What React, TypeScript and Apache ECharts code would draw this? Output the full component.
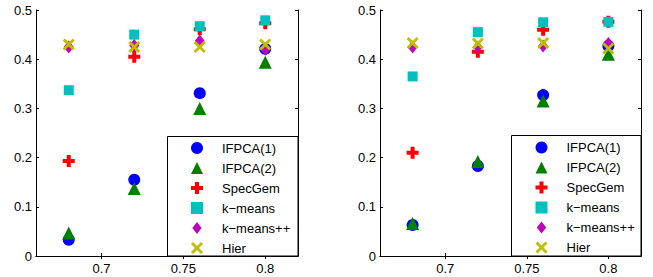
import React, { useEffect, useRef } from "react";
import * as echarts from "echarts";

const xValues = [0.68, 0.72, 0.76, 0.8];
const xTicks = [0.7, 0.75, 0.8];
const seriesNames = ["IFPCA(1)", "IFPCA(2)", "SpecGem", "k\u2212means", "k\u2212means++", "Hier"];

// Left panel values
const leftIFPCA1 = [0.033, 0.155, 0.331, 0.421];
const leftIFPCA2 = [0.047, 0.137, 0.3, 0.394];
const leftSpecGem = [0.193, 0.405, 0.461, 0.473];
const leftKmeans = [0.337, 0.45, 0.467, 0.479];
const leftKmeansPP = [0.425, 0.428, 0.437, 0.42];
const leftHier = [0.43, 0.425, 0.425, 0.43];

// Right panel values
const rightIFPCA1 = [0.063, 0.183, 0.327, 0.427];
const rightIFPCA2 = [0.066, 0.192, 0.315, 0.41];
const rightSpecGem = [0.21, 0.415, 0.46, 0.476];
const rightKmeans = [0.365, 0.455, 0.475, 0.476];
const rightKmeansPP = [0.425, 0.425, 0.427, 0.432];
const rightHier = [0.433, 0.432, 0.433, 0.422];

const colors = ["#0000ff", "#008000", "#ff0000", "#00bfbf", "#bf00bf", "#bfbf00"];
const PLUS = "path://M4,0H8V4H12V8H8V12H4V8H0V4H4Z";
const CROSS = "path://M0,2L2,0L6,4L10,0L12,2L8,6L12,10L10,12L6,8L2,12L0,10L4,6Z";
const DIAMOND = "path://M5,0L10,6.5L5,13L0,6.5Z";
const symbols: any[] = ["circle", "triangle", PLUS, "rect", DIAMOND, CROSS];
const sizes: any[] = [12, 13, 12, 10, [10, 13], 12];
const legendSizes = [12, 12, 12, 10, 12, 12];

const FONT = "Liberation Sans, Arial, Helvetica, sans-serif";

export default function App() {
  const ref = useRef<HTMLDivElement>(null);
  useEffect(() => {
    if (!ref.current) return;
    document.body.style.margin = "0";
    const chart = echarts.init(ref.current, null, { renderer: "svg" });
    const leftData = [leftIFPCA1, leftIFPCA2, leftSpecGem, leftKmeans, leftKmeansPP, leftHier];
    const rightData = [rightIFPCA1, rightIFPCA2, rightSpecGem, rightKmeans, rightKmeansPP, rightHier];

    const grids = [
      { left: 36, top: 10, width: 262, height: 246 },
      { left: 380, top: 10, width: 261, height: 246 },
    ];
    const axisLine = { show: true, lineStyle: { color: "#000", width: 1 } };
    const xAxes: any[] = [];
    const yAxes: any[] = [];
    grids.forEach((_, gi) => {
      xAxes.push({
        type: "value", gridIndex: gi, position: "bottom", min: 0.66, max: 0.82,
        axisLine, splitLine: { show: false },
        axisTick: { show: true, inside: true, length: 3, customValues: xTicks, lineStyle: { color: "#000" } },
        axisLabel: { show: true, customValues: xTicks, color: "#000", fontSize: 13, fontFamily: FONT, margin: 6,
          formatter: (v: number) => String(+v.toFixed(2)) },
      });
      xAxes.push({
        type: "value", gridIndex: gi, position: "top", min: 0.66, max: 0.82,
        axisLine, splitLine: { show: false },
        axisTick: { show: true, inside: true, length: 3, customValues: xTicks, lineStyle: { color: "#000" } },
        axisLabel: { show: false },
      });
      yAxes.push({
        type: "value", gridIndex: gi, position: "left", min: 0, max: 0.5, interval: 0.1,
        axisLine, splitLine: { show: false },
        axisTick: { show: true, inside: true, length: 3, lineStyle: { color: "#000" } },
        axisLabel: { show: true, color: "#000", fontSize: 13, fontFamily: FONT, margin: 4,
          formatter: (v: number) => String(+v.toFixed(1)) },
      });
      yAxes.push({
        type: "value", gridIndex: gi, position: "right", min: 0, max: 0.5, interval: 0.1,
        axisLine, splitLine: { show: false },
        axisTick: { show: true, inside: true, length: 3, lineStyle: { color: "#000" } },
        axisLabel: { show: false },
      });
    });

    const series: any[] = [];
    [leftData, rightData].forEach((panel, gi) => {
      panel.forEach((vals, si) => {
        series.push({
          type: "scatter",
          name: seriesNames[si],
          xAxisIndex: gi * 2,
          yAxisIndex: gi * 2,
          symbol: symbols[si],
          symbolSize: sizes[si],
          itemStyle: { color: colors[si], opacity: 1 },
          z: 3,
          data: xValues.map((x, i) => [x, vals[i]]),
        });
      });
    });

    const legendCommon = {
      orient: "vertical",
      data: seriesNames.map((n, i) => ({ name: n, icon: symbols[i], itemStyle: { color: colors[i] } })),
      itemWidth: 12,
      itemHeight: 12,
      itemGap: 7,
      padding: 0,
      selectedMode: false,
      symbolKeepAspect: true,
      z: 5,
      textStyle: { color: "#000", fontSize: 13, fontFamily: FONT, lineHeight: 12, padding: [0, 0, 0, 14] },
    };

    chart.setOption({
      animation: false,
      backgroundColor: "#fff",
      grid: grids,
      xAxis: xAxes,
      yAxis: yAxes,
      series,
      legend: [
        { ...legendCommon, left: 191, top: 141.5 },
        { ...legendCommon, left: 535.5, top: 141 },
      ],
      graphic: [
        { type: "rect", z: 2, shape: { x: 167.5, y: 136.5, width: 130.5, height: 119.5 },
          style: { fill: "#fff", stroke: "#000", lineWidth: 1 } },
        { type: "rect", z: 2, shape: { x: 511.5, y: 135.5, width: 129.5, height: 120.5 },
          style: { fill: "#fff", stroke: "#000", lineWidth: 1 } },
      ],
    });
    return () => chart.dispose();
  }, []);
  return <div ref={ref} style={{ width: 653, height: 277, position: "fixed", left: 0, top: 0 }} />;
}
